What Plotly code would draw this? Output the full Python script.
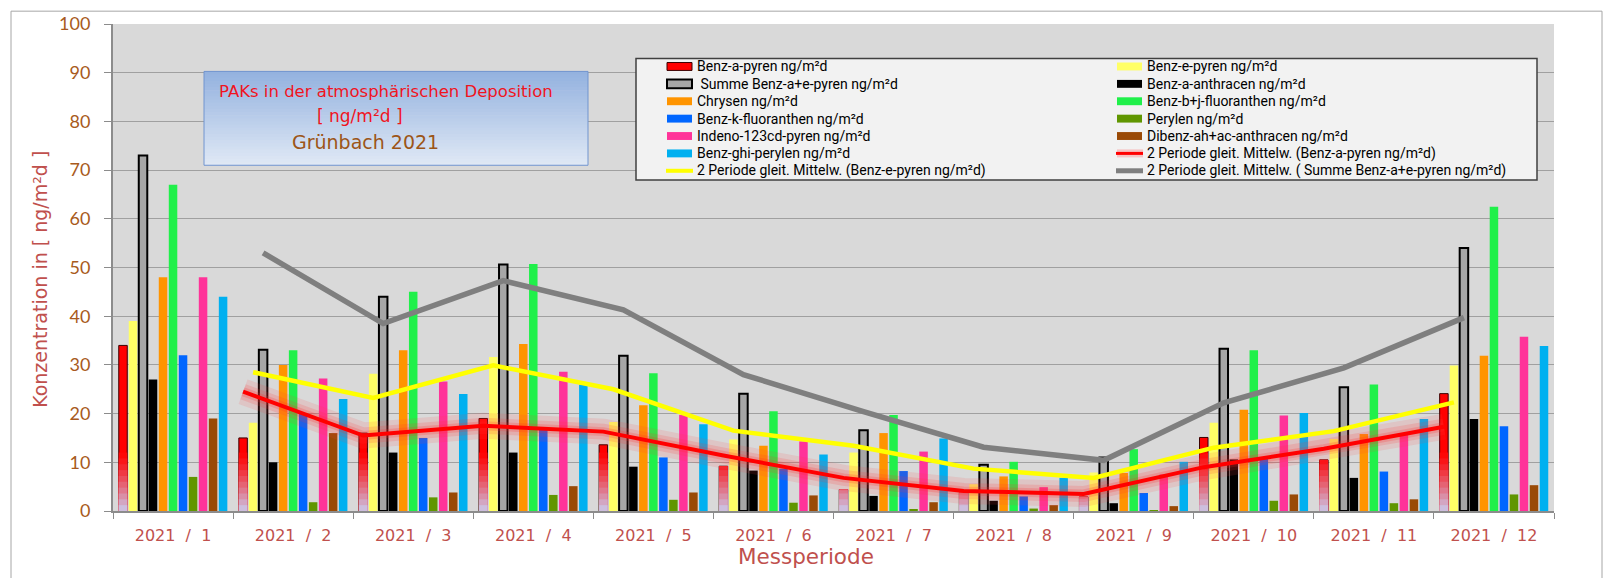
import plotly.graph_objects as go

# ---------------- data ----------------
periods = ["2021\u00a0\u00a0/\u00a0\u00a01", "2021\u00a0\u00a0/\u00a0\u00a02", "2021\u00a0\u00a0/\u00a0\u00a03",
           "2021\u00a0\u00a0/\u00a0\u00a04", "2021\u00a0\u00a0/\u00a0\u00a05", "2021\u00a0\u00a0/\u00a0\u00a06",
           "2021\u00a0\u00a0/\u00a0\u00a07", "2021\u00a0\u00a0/\u00a0\u00a08", "2021\u00a0\u00a0/\u00a0\u00a09",
           "2021\u00a0\u00a0/\u00a0\u00a010", "2021\u00a0\u00a0/\u00a0\u00a011", "2021\u00a0\u00a0/\u00a0\u00a012"]

benz_a_pyren = [34, 15, 16, 19, 13.6, 9.2, 4.4, 3.8, 2.9, 15.1, 10.5, 24.1]
benz_e_pyren = [39, 18.1, 28.2, 31.6, 18.3, 14.7, 12, 5.5, 7.9, 18.1, 14.8, 29.9]
summe_a_e_pyren = [73, 33.1, 44, 50.6, 31.9, 24.1, 16.6, 9.5, 11, 33.3, 25.4, 54]
benz_a_anthracen = [27, 10, 12, 12, 9.1, 8.3, 3.1, 2.1, 1.6, 10.6, 6.8, 18.9]
chrysen = [48, 30, 33, 34.3, 21.7, 13.4, 16, 7.1, 7.8, 20.8, 15.8, 31.9]
benz_bj_fluoranthen = [67, 33, 45, 50.7, 28.3, 20.5, 19.7, 10.1, 12.7, 33, 26, 62.5]
benz_k_fluoranthen = [32, 20, 15, 17, 11, 8.7, 8.2, 3.0, 3.7, 11, 8.1, 17.4]
perylen = [7, 1.8, 2.8, 3.3, 2.3, 1.7, 0.4, 0.5, 0.2, 2.1, 1.6, 3.4]
indeno_pyren = [48, 27.2, 26.6, 28.6, 19.7, 14.3, 12.2, 4.9, 7.5, 19.6, 16, 35.8]
dibenz_anthracen = [19, 16, 3.8, 5.1, 3.8, 3.2, 1.8, 1.2, 1.0, 3.4, 2.4, 5.3]
benz_ghi_perylen = [44, 23, 24, 25.9, 17.8, 11.6, 14.9, 6.8, 10.1, 20.1, 18.9, 33.9]

# 2-period moving averages as drawn (first period has no value)
ma_benz_a_pyren = [None, 24.5, 15.5, 17.5, 16.3, 11.4, 6.8, 4.1, 3.5, 9.0, 12.8, 17.3]
ma_benz_e_pyren = [None, 28.5, 23.2, 29.9, 25.0, 16.5, 13.4, 8.7, 6.8, 13.0, 16.4, 22.3]
ma_summe = [None, 53.0, 38.5, 47.3, 41.3, 28.0, 20.4, 13.1, 10.4, 22.2, 29.4, 39.7]

series_names = ["Benz-a-pyren ng/m²d", "Benz-e-pyren ng/m²d", "Summe Benz-a+e-pyren ng/m²d",
                "Benz-a-anthracen ng/m²d", "Chrysen ng/m²d", "Benz-b+j-fluoranthen ng/m²d",
                "Benz-k-fluoranthen ng/m²d", "Perylen ng/m²d", "Indeno-123cd-pyren ng/m²d",
                "Dibenz-ah+ac-anthracen ng/m²d", "Benz-ghi-perylen ng/m²d"]
series_values = [benz_a_pyren, benz_e_pyren, summe_a_e_pyren, benz_a_anthracen, chrysen,
                 benz_bj_fluoranthen, benz_k_fluoranthen, perylen, indeno_pyren,
                 dibenz_anthracen, benz_ghi_perylen]
ma_names = ["2 Periode gleit. Mittelw. (Benz-a-pyren ng/m²d)",
            "2 Periode gleit. Mittelw. (Benz-e-pyren ng/m²d)",
            "2 Periode gleit. Mittelw. ( Summe Benz-a+e-pyren ng/m²d)"]

# ---------------- styles ----------------
series_colors = ["#FF0000", "#FFFF66", "#A6A6A6", "#000000", "#FF9400", "#20F04A",
                 "#0066FF", "#609600", "#FF3399", "#9A4A06", "#00B0F0"]
RED_FADE_TOP = 12.0
RED_FADE_STEPS = 10
LAVENDER = "#CACAEC"

W, H = 1610, 578
L, R, T, B = 113, 1554, 18, 511
BARGAP = 0.0833
NS = len(series_names)


def px(x):
    return (x - L) / (R - L)


def py(y):
    return (B - y) / (B - T)


def mix(c1, c2, t):
    a = [int(c1[i:i + 2], 16) for i in (1, 3, 5)]
    b = [int(c2[i:i + 2], 16) for i in (1, 3, 5)]
    return "#%02X%02X%02X" % tuple(round(a[i] + (b[i] - a[i]) * t) for i in range(3))


def slot_offset(k):
    gw = 1 - BARGAP
    return -gw / 2 + (k + 0.5) * gw / NS


fig = go.Figure()

for k, (name, vals, col) in enumerate(zip(series_names, series_values, series_colors)):
    mline = dict(width=0)
    if k == 0:
        mline = dict(color="#3A0000", width=1)
    elif k == 2:
        mline = dict(color="#000000", width=2)
    fig.add_trace(go.Bar(x=periods, y=vals, name=name, offsetgroup=str(k),
                         marker=dict(color=col, line=mline), showlegend=False))
    if k == 0:
        # gradient at the foot of the Benz-a-pyren bars
        for j in range(RED_FADE_STEPS):
            h = RED_FADE_TOP * (RED_FADE_STEPS - j) / RED_FADE_STEPS
            c = mix("#FF0000", LAVENDER, ((j + 0.5) / RED_FADE_STEPS) ** 1.2)
            fig.add_trace(go.Bar(x=periods, y=[min(v, h) for v in vals], offsetgroup=str(k),
                                 marker=dict(color=c, line=dict(width=0)),
                                 showlegend=False, hoverinfo="skip"))

xi = list(range(len(periods)))
# glow for the red moving average
for wdt, col in [(26, "rgba(255,60,60,0.13)"), (16, "rgba(255,50,50,0.16)"), (9, "rgba(255,40,40,0.2)")]:
    fig.add_trace(go.Scatter(x=[i + slot_offset(0) for i in xi], y=ma_benz_a_pyren, xaxis="x2",
                             mode="lines", line=dict(color=col, width=wdt),
                             showlegend=False, hoverinfo="skip"))
fig.add_trace(go.Scatter(x=[i + slot_offset(0) for i in xi], y=ma_benz_a_pyren, xaxis="x2",
                         mode="lines", name=ma_names[0], line=dict(color="#FF0000", width=4),
                         showlegend=False))
fig.add_trace(go.Scatter(x=[i + slot_offset(1) for i in xi], y=ma_benz_e_pyren, xaxis="x2",
                         mode="lines", name=ma_names[1], line=dict(color="#FFFF00", width=4.5),
                         showlegend=False))
fig.add_trace(go.Scatter(x=[i + slot_offset(2) for i in xi], y=ma_summe, xaxis="x2",
                         mode="lines", name=ma_names[2], line=dict(color="#7F7F7F", width=5.5),
                         showlegend=False))

shapes = []
annotations = []

# outer chart frame
shapes.append(dict(type="rect", xref="paper", yref="paper", x0=px(11), x1=px(1602), y0=py(600), y1=py(5),
                   line=dict(color="#A6A6A6", width=1), fillcolor="rgba(0,0,0,0)", layer="above"))

# title box with vertical gradient
TB_X0, TB_X1, TB_Y0, TB_Y1 = 204, 588, 66, 161
NSTRIP = 30
for s in range(NSTRIP):
    ya = TB_Y0 + (TB_Y1 - TB_Y0) * s / NSTRIP
    yb = TB_Y0 + (TB_Y1 - TB_Y0) * (s + 1) / NSTRIP + 0.6
    shapes.append(dict(type="rect", xref="paper", yref="paper", x0=px(TB_X0), x1=px(TB_X1),
                       y0=py(min(yb, TB_Y1)), y1=py(ya), line=dict(width=0),
                       fillcolor=mix("#94B2DF", "#DFE8F5", s / (NSTRIP - 1)), layer="above"))
shapes.append(dict(type="rect", xref="paper", yref="paper", x0=px(TB_X0), x1=px(TB_X1),
                   y0=py(TB_Y1), y1=py(TB_Y0), line=dict(color="#7094CF", width=1),
                   fillcolor="rgba(0,0,0,0)", layer="above"))
annotations += [
    dict(text="PAKs in der atmosphärischen Deposition", x=px(386), y=py(86),
         font=dict(family="DejaVu Sans", size=16.5, color="#F0141E")),
    dict(text="[ ng/m²d ]", x=px(360), y=py(111),
         font=dict(family="DejaVu Sans", size=17, color="#F0141E")),
    dict(text="Grünbach 2021", x=px(365), y=py(137),
         font=dict(family="DejaVu Sans", size=19, color="#9C5517")),
]

# legend box (two columns)
shapes.append(dict(type="rect", xref="paper", yref="paper", x0=px(636), x1=px(1537), y0=py(176), y1=py(53),
                   line=dict(color="#404040", width=1.5), fillcolor="#F2F2F2", layer="above"))
ROW0, ROWH = 61, 17.6
left_items = [(series_names[0], "bar", 0), (" " + series_names[2], "bar", 2), (series_names[4], "bar", 4),
              (series_names[6], "bar", 6), (series_names[8], "bar", 8), (series_names[10], "bar", 10),
              (ma_names[1], "line", "#FFFF00")]
right_items = [(series_names[1], "bar", 1), (series_names[3], "bar", 3), (series_names[5], "bar", 5),
               (series_names[7], "bar", 7), (series_names[9], "bar", 9),
               (ma_names[0], "line", "#FF0000"), (ma_names[2], "line", "#7F7F7F")]
for items, sx0, sx1, tx in [(left_items, 667, 692, 695), (right_items, 1117, 1142, 1145)]:
    for r, (label, kind, ref) in enumerate(items):
        yc = ROW0 + r * ROWH
        if kind == "bar":
            lw, lc = 0, "rgba(0,0,0,0)"
            hh = 4
            if ref == 0:
                lw, lc = 1, "#3A0000"
            elif ref == 2:
                lw, lc, hh = 2, "#000000", 4.5
            shapes.append(dict(type="rect", xref="paper", yref="paper", x0=px(sx0), x1=px(sx1),
                               y0=py(yc + hh), y1=py(yc - hh), fillcolor=series_colors[ref],
                               line=dict(color=lc, width=lw), layer="above"))
        else:
            wid = {"#FFFF00": 4, "#FF0000": 3, "#7F7F7F": 5}[ref]
            if ref == "#FF0000":
                shapes.append(dict(type="line", xref="paper", yref="paper", x0=px(sx0), x1=px(sx1 + 1),
                                   y0=py(yc), y1=py(yc), line=dict(color="rgba(255,60,60,0.25)", width=8),
                                   layer="above"))
            shapes.append(dict(type="line", xref="paper", yref="paper", x0=px(sx0 - 1), x1=px(sx1 + 1),
                               y0=py(yc), y1=py(yc), line=dict(color=ref, width=wid), layer="above"))
        annotations.append(dict(text=label, x=px(tx), y=py(yc), xanchor="left",
                                font=dict(family="Roboto", size=14, color="#000000")))

# axis titles
annotations.append(dict(text="Konzentration in [ ng/m²d ]", x=px(40), y=py(277), textangle=-90,
                        font=dict(family="DejaVu Sans", size=19, color="#C0504D")))
annotations.append(dict(text="Messperiode", x=px(806), y=py(557),
                        font=dict(family="DejaVu Sans", size=21.5, color="#C0504D")))

for a in annotations:
    a.setdefault("xref", "paper")
    a.setdefault("yref", "paper")
    a.setdefault("xanchor", "center")
    a.setdefault("yanchor", "middle")
    a["showarrow"] = False

fig.update_layout(
    width=W, height=H,
    margin=dict(l=L, r=W - R, t=T, b=H - B, pad=0),
    paper_bgcolor="#FFFFFF", plot_bgcolor="#D9D9D9",
    barmode="group", bargap=BARGAP, bargroupgap=0.15,
    showlegend=False,
    xaxis=dict(type="category", range=[-0.5, 11.5], tickson="boundaries", ticks="outside", ticklen=6,
               tickcolor="#8C8C8C", showline=True, linecolor="#8C8C8C", linewidth=1.5, showgrid=False,
               tickfont=dict(family="DejaVu Sans", size=16, color="#C0504D"), ticklabelstandoff=9),
    xaxis2=dict(overlaying="x", range=[-0.5, 11.5], visible=False),
    yaxis=dict(range=[0, 100], dtick=10, ticks="outside", ticklen=7, tickcolor="#8C8C8C",
               showline=True, linecolor="#8C8C8C", linewidth=2, gridcolor="#A0A0A0", gridwidth=1,
               zeroline=False, tickfont=dict(family="Lato", size=18, color="#A85A20"),
               ticklabelstandoff=10),
    shapes=shapes, annotations=annotations,
)

fig.write_html("out.html", config={"displayModeBar": False},
               post_script="document.body.style.margin='0';document.body.style.overflow='hidden';")
